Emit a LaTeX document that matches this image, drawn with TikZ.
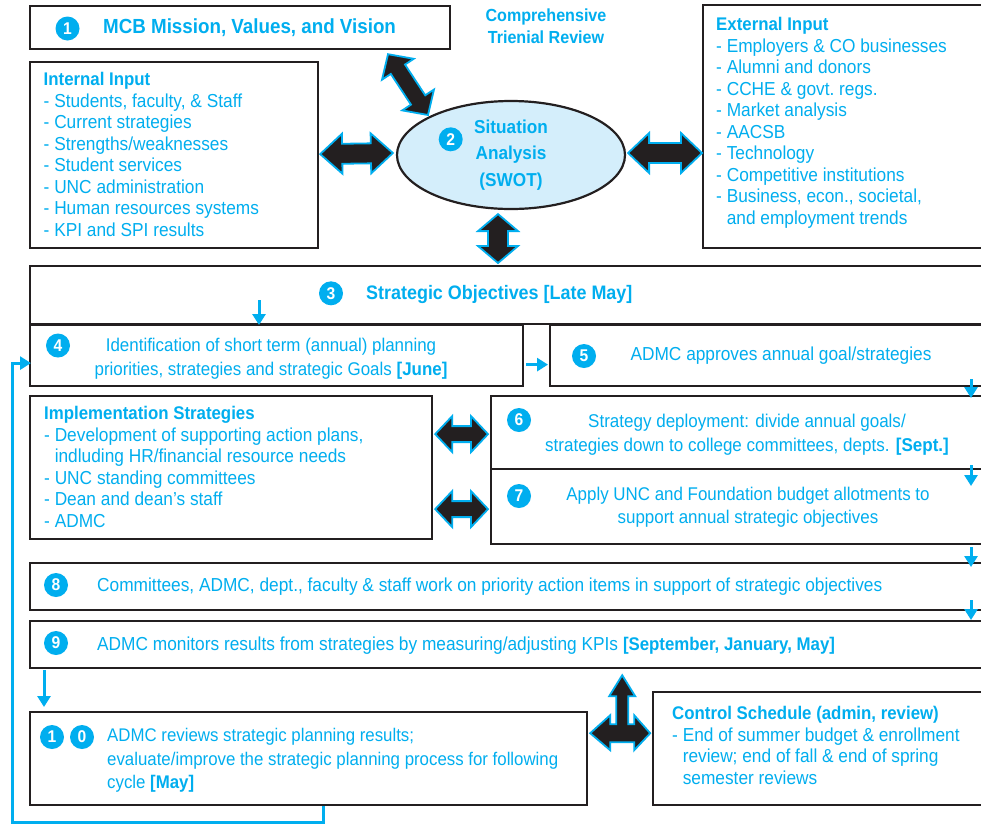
\documentclass[tikz,border=0pt]{standalone}
\usepackage{fontspec}
\setmainfont{Liberation Sans}[FakeStretch=0.92]
\usetikzlibrary{calc,arrows.meta,shapes.geometric}
\definecolor{cy}{HTML}{00AEEF}
\definecolor{ink}{HTML}{231F20}
\definecolor{swotfill}{HTML}{D4EEFB}

% Two-headed block arrow: #1,#2 tips, #3 head length, #4 head half-width, #5 shaft half-width
\newcommand\fatarrow[5]{%
  \coordinate (faA) at #1;
  \coordinate (faB) at #2;
  \coordinate (faP) at ($(faA)!#3!(faB)$);
  \coordinate (faQ) at ($(faB)!#3!(faA)$);
  \filldraw[fat] (faA)
    -- ($(faP)!#4!90:(faB)$) -- ($(faP)!#5!90:(faB)$)
    -- ($(faQ)!#5!-90:(faA)$) -- ($(faQ)!#4!-90:(faA)$)
    -- (faB)
    -- ($(faQ)!#4!90:(faA)$) -- ($(faQ)!#5!90:(faA)$)
    -- ($(faP)!#5!-90:(faB)$) -- ($(faP)!#4!-90:(faB)$)
    -- cycle;
}

\begin{document}
\begin{tikzpicture}[x=1pt,y=-1pt,
  box/.style={draw=ink, line width=2.2pt, fill=white, rectangle, inner sep=0pt, anchor=north west},
  num/.style={circle, fill=cy, text=white, inner sep=0pt, minimum size=24pt, font=\bfseries\fontsize{17}{17}\selectfont},
  txt/.style={text=cy, inner sep=0pt, font=\fontsize{18.8}{21.5}\selectfont},
  list/.style={txt, align=left, anchor=north west},
  fat/.style={fill=ink, draw=cy, line width=1.8pt, line join=miter},
  flow/.style={draw=cy, line width=3pt, line join=miter, -{Triangle[length=11pt,width=13pt]}},
]
\fill[white] (0,0) rectangle (981,823);
\useasboundingbox (0,0) rectangle (981,823);

% ---------- boxes ----------
\node[box, minimum width=420pt, minimum height=43pt]  (b1)  at (29,5) {};
\node[box, minimum width=288pt, minimum height=186pt] (in)  at (29,61) {};
\node[box, minimum width=290pt, minimum height=243pt] (ex)  at (702,4) {};
\node[ellipse, draw=ink, line width=2.2pt, fill=swotfill, minimum width=228pt, minimum height=108pt, inner sep=0pt] (sw) at (511,155) {};
\node[box, minimum width=962pt, minimum height=58pt]  (b3)  at (29,265) {};
\node[box, minimum width=493pt, minimum height=61pt]  (b4)  at (29,324) {};
\node[box, minimum width=442pt, minimum height=61pt]  (b5)  at (549,324) {};
\node[box, minimum width=402pt, minimum height=143pt] (im)  at (29,395) {};
\node[box, minimum width=501pt, minimum height=73pt]  (b6)  at (490,395) {};
\node[box, minimum width=501pt, minimum height=75pt]  (b7)  at (490,468) {};
\node[box, minimum width=962pt, minimum height=47pt]  (b8)  at (29,562) {};
\node[box, minimum width=962pt, minimum height=47pt]  (b9)  at (29,620) {};
\node[box, minimum width=557pt, minimum height=93pt]  (b10) at (29,711) {};
\node[box, minimum width=339pt, minimum height=113pt] (cs)  at (652,691) {};

% ---------- texts ----------
\node[num] (n1) at (67.5,28.5) {1};
\node[txt, anchor=base west, font=\bfseries\fontsize{20.4}{22}\selectfont] (t1) at (103,33.3) {MCB Mission, Values, and Vision};

\node[txt, align=center, anchor=north, font=\bfseries\fontsize{17.5}{21.6}\selectfont] (crv) at (546,8.9) {Comprehensive\\Trienial Review};

\node[list] (tin) at (43.5,72.3) {\textbf{\fontsize{18.3}{21.5}\selectfont Internal Input}\\- Students, faculty, \& Staff\\- Current strategies\\- Strengths/weaknesses\\- Student services\\- UNC administration\\- Human resources systems\\- KPI and SPI results};

\node[num] (n2) at (450.7,139.3) {2};
\node[txt, align=center, anchor=north, font=\bfseries\fontsize{18.7}{26.5}\selectfont] (tsw) at (511,119.7) {Situation\\Analysis\\(SWOT)};

\node[list] (tex) at (716,17.3) {\textbf{\fontsize{18.3}{21.5}\selectfont External Input}\\- Employers \& CO businesses\\- Alumni and donors\\- CCHE \& govt.\ regs.\\- Market analysis\\- AACSB\\- Technology\\- Competitive institutions\\- Business, econ., societal,\\\hphantom{-\ }and employment trends};

\node[num] (n3) at (331,293.3) {3};
\node[txt, anchor=base west, font=\bfseries\fontsize{19.5}{21}\selectfont] (t3) at (366,299.3) {Strategic Objectives [Late May]};

\node[num] (n4) at (58,345.5) {4};
\node[txt, align=center, anchor=north, font=\fontsize{18.4}{24}\selectfont] (t4) at (271,337.6) {Identification of short term (annual) planning\\priorities, strategies and strategic Goals \textbf{[June]}};

\node[num] (n5) at (584,356) {5};
\node[txt, anchor=base] (t5) at (781,360) {ADMC approves annual goal/strategies};

\node[list] (tim) at (44,406.3) {\textbf{\fontsize{18.3}{21.5}\selectfont Implementation Strategies}\\- Development of supporting action plans,\\\hphantom{-\ }indluding HR/financial resource needs\\- UNC standing committees\\- Dean and dean’s staff\\- ADMC};

\node[num] (n6) at (519,420) {6};
\node[txt, align=center, anchor=north, font=\fontsize{18.5}{24.5}\selectfont] (t6) at (747,413.5) {Strategy deployment: divide annual goals/\\strategies down to college committees, depts. \textbf{[Sept.]}};

\node[num] (n7) at (519,496) {7};
\node[txt, align=center, anchor=north, font=\fontsize{18.4}{23}\selectfont] (t7) at (748,486.6) {Apply UNC and Foundation budget allotments to\\support annual strategic objectives};

\node[num] (n8) at (56,585) {8};
\node[txt, anchor=base west] (t8) at (97,591.7) {Committees, ADMC, dept., faculty \& staff work on priority action items in support of strategic objectives};

\node[num] (n9) at (56,643) {9};
\node[txt, anchor=base west] (t9) at (97,650) {ADMC monitors results from strategies by measuring/adjusting KPIs \textbf{\fontsize{18.3}{21.5}\selectfont[September, January, May]}};

\node[num] (n10a) at (52,737) {1};
\node[num] (n10b) at (82,737) {0};
\node[list, font=\fontsize{18.3}{23.3}\selectfont] (t10) at (107,728.4) {ADMC reviews strategic planning results;\\evaluate/improve the strategic planning process for following\\cycle \textbf{[May]}};

\node[list] (tcs) at (672,706.3) {\textbf{\fontsize{18.3}{21.5}\selectfont Control Schedule (admin, review)}\\- End of summer budget \& enrollment\\\hphantom{-\ }review; end of fall \& end of spring\\\hphantom{-\ }semester reviews};

% ---------- block arrows ----------
\fatarrow{($(b1.south west)+(359,4)$)}{($(sw.center)+(-83,-40)$)}{18pt}{19pt}{8.5pt}
\fatarrow{($(in.east)+(1,-1)$)}{($(sw.west)+(-3,-2)$)}{22pt}{20pt}{10pt}
\fatarrow{($(sw.east)+(2,-2)$)}{($(ex.west |- sw.east)+(0,-2)$)}{21pt}{20pt}{10pt}
\fatarrow{($(sw.south)+(-13,4)$)}{($(sw.south |- b3.north)+(-13,-2)$)}{17pt}{20pt}{10pt}
\fatarrow{($(b6.west -| im.east)+(2,1.5)$)}{($(b6.west)+(-2,1.5)$)}{17pt}{18pt}{8pt}
\fatarrow{($(b7.west -| im.east)+(2,2.5)$)}{($(b7.west)+(-2,2.5)$)}{17pt}{18pt}{8pt}

% three-way arrow between monitoring, review and control schedule
\coordinate (tj) at ($(b9.south -| b10.east)+(34,64)$);
\filldraw[fat, shift={(tj)}] (0,-58) -- (13,-37) -- (6,-37) -- (6,-9) -- (12,-9) -- (12,-18)
  -- (28,0) -- (12,17) -- (12,9) -- (-12,9) -- (-12,17) -- (-32,0) -- (-12,-18)
  -- (-12,-9) -- (-6,-9) -- (-6,-37) -- (-13,-37) -- cycle;

% ---------- flow arrows ----------
\coordinate (rx) at (971,0);
\draw[flow] ($(b5.south -| rx)+(0,-8)$) -- ($(b6.north -| rx)+(0,3)$);
\draw[flow] ($(b6.south -| rx)+(0,-5)$) -- ($(b7.north -| rx)+(0,18)$);
\draw[flow] ($(b7.south -| rx)+(0,2)$) -- ($(b8.north -| rx)+(0,5)$);
\draw[flow] ($(b8.south -| rx)+(0,-11)$) -- (b9.north -| rx);
\draw[flow] ($(b4.north west)+(230,-24)$) -- ($(b4.north west)+(230,1)$);
\draw[flow] ($(b4.east)+(2,9)$) -- ($(b5.west)+(-1,9)$);
\draw[flow] ($(b9.south west)+(15,1)$) -- ($(b10.north west)+(15,-4)$);
\draw[flow] ($(b10.south west)+(294,0)$) -- ++(0,16) -| ($(b4.west)+(-17,7.5)$) -- ($(b4.west)+(2,7.5)$);
\end{tikzpicture}
\end{document}
